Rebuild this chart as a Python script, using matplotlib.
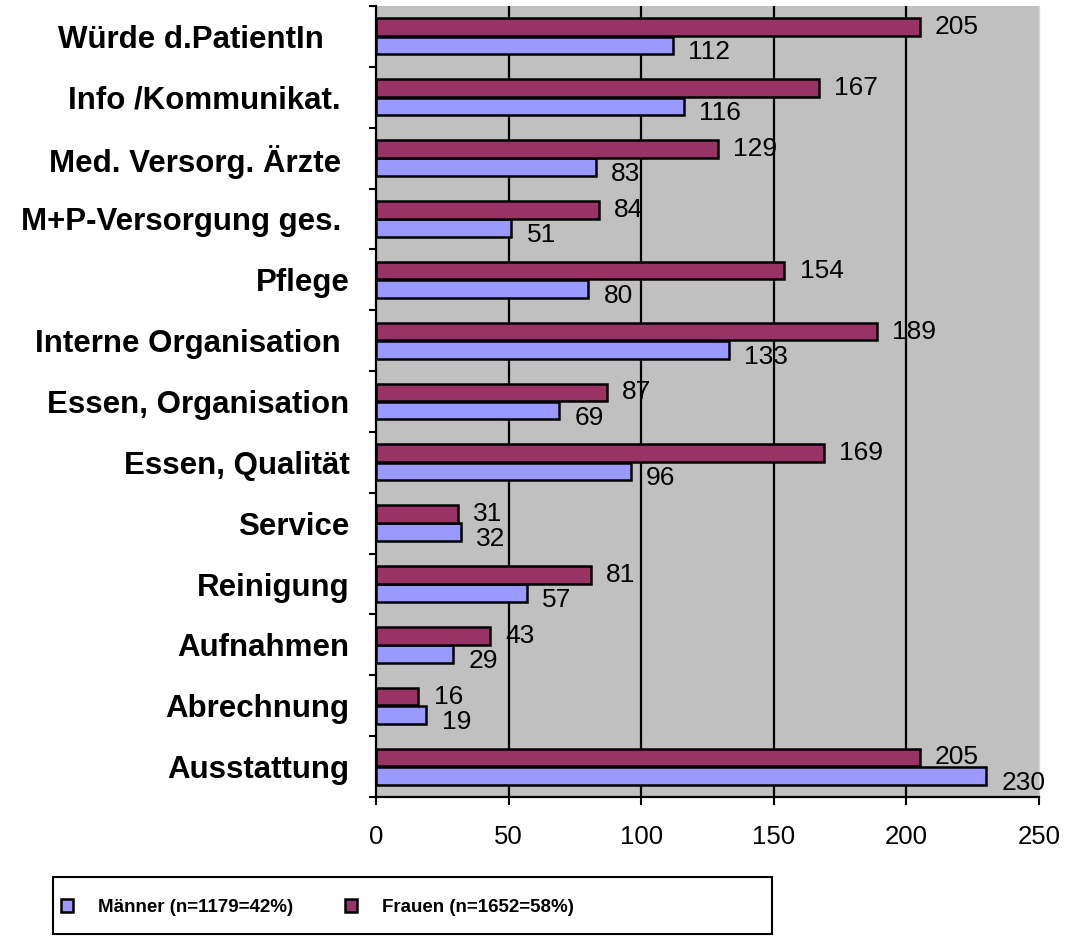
import matplotlib.pyplot as plt
import numpy as np
from matplotlib.patches import Rectangle

plt.rcParams['font.family'] = ['Liberation Sans', 'DejaVu Sans']

# categories from top to bottom, trailing blanks as in the original labels
categories = ['Würde d.PatientIn   ', 'Info /Kommunikat. ', 'Med. Versorg. Ärzte ',
              'M+P-Versorgung ges. ', 'Pflege', 'Interne Organisation ',
              'Essen, Organisation', 'Essen, Qualität', 'Service', 'Reinigung',
              'Aufnahmen', 'Abrechnung', 'Ausstattung']
maenner = [112, 116, 83, 51, 80, 133, 69, 96, 32, 57, 29, 19, 230]
frauen = [205, 167, 129, 84, 154, 189, 87, 169, 31, 81, 43, 16, 205]
xticks = [0, 50, 100, 150, 200, 250]
legend_labels = ['Männer (n=1179=42%)', 'Frauen (n=1652=58%)']

c_m = '#9999FF'
c_f = '#993366'

fig = plt.figure(figsize=(10.72, 9.36), dpi=100)
ax = fig.add_axes([0.3507, 0.1485, 0.6185, 0.8451])
ax.set_facecolor('#C0C0C0')

y = np.arange(len(categories))
h = 0.29
bm = ax.barh(y + 0.15, maenner, height=h, color=c_m, edgecolor='black', linewidth=1.8, zorder=3)
bf = ax.barh(y - 0.15, frauen, height=h, color=c_f, edgecolor='black', linewidth=1.8, zorder=3)

for v in xticks[1:-1]:
    ax.axvline(v, color='black', linewidth=1.6, zorder=1)

# value labels
for yi, v in zip(y, frauen):
    ax.annotate(str(v), (v, yi - 0.15), xytext=(11, 0), textcoords='offset points',
                ha='left', va='center', fontsize=19, zorder=4)
for yi, v in zip(y, maenner):
    ax.annotate(str(v), (v, yi + 0.15), xytext=(11, -5), textcoords='offset points',
                ha='left', va='center', fontsize=19, zorder=4)

ax.set_xlim(0, 250)
ax.set_ylim(len(categories) - 0.5, -0.5)
ax.set_xticks(xticks)
ax.set_xticklabels([str(t) for t in xticks], fontsize=18.5)
ax.set_yticks(y)
ax.set_yticklabels(categories, fontsize=22.5, fontweight='bold')
ax.set_yticks(np.arange(len(categories) + 1) - 0.5, minor=True)
ax.tick_params(axis='y', which='major', length=0, pad=19)
ax.tick_params(axis='y', which='minor', length=5, width=1.5, direction='out')
ax.tick_params(axis='x', length=6, width=1.5, direction='out', pad=14)

for s in ['left', 'bottom']:
    ax.spines[s].set_linewidth(1.6)
    ax.spines[s].set_color('black')
ax.spines['top'].set_visible(False)
ax.spines['right'].set_color('#D8D8D8')
ax.spines['right'].set_linewidth(1)

# legend frame and entries
fig.patches.append(Rectangle((53 / 1072, 0.002), 719 / 1072, 0.061, transform=fig.transFigure,
                             facecolor='white', edgecolor='black', linewidth=1.5))
fig.legend([bm, bf], legend_labels, loc='center left', bbox_to_anchor=(61 / 1072, 0.030),
           ncol=2, frameon=False, prop={'size': 13.5, 'weight': 'bold'},
           handlelength=0.65, handleheight=0.7, handletextpad=1.3, columnspacing=2.8,
           borderpad=0, borderaxespad=0)

fig.savefig('out.png', dpi=100)
